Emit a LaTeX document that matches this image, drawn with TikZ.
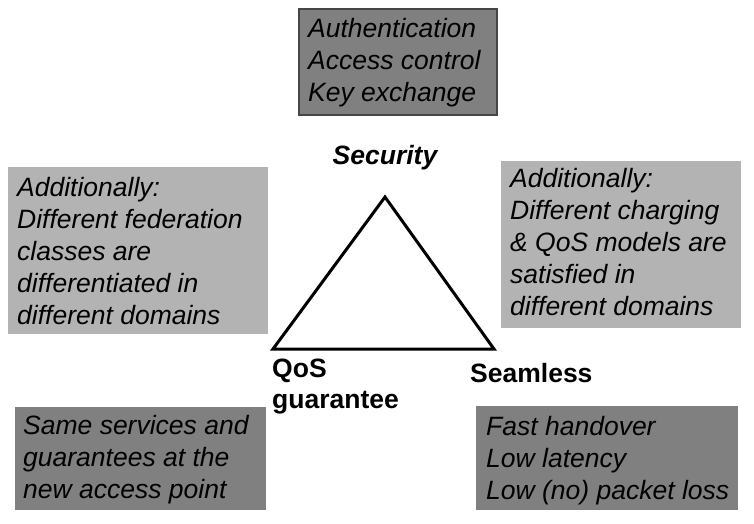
\documentclass[tikz,border=0pt]{standalone}
\usepackage{fontspec}
\setmainfont{Liberation Sans}
\begin{document}
\begin{tikzpicture}[x=1pt,y=-1pt,
  boxbase/.style={anchor=north west, inner sep=0pt, outer sep=0pt},
  darkbox/.style={boxbase, fill={rgb,255:red,128;green,128;blue,128}},
  lightbox/.style={boxbase, fill={rgb,255:red,179;green,179;blue,179}},
  borderbox/.style={darkbox, draw={rgb,255:red,70;green,70;blue,70}, line width=1.2pt},
  boxtext/.style={anchor=north west, inner sep=0pt, align=left,
    font=\fontsize{26.5}{32}\selectfont\itshape},
  vertexlabel/.style={inner sep=0pt, font=\fontsize{26.5}{31}\selectfont\bfseries},
  triline/.style={line width=3pt, line join=miter}
]
\useasboundingbox (0,0) rectangle (754,524);

% boxes
\node[borderbox, minimum width=198pt, minimum height=106pt] (secbox) at (299,9) {};
\node[lightbox, minimum width=260pt, minimum height=167pt] (fedbox) at (8,167) {};
\node[lightbox, minimum width=240pt, minimum height=167pt] (chgbox) at (501,161) {};
\node[darkbox, minimum width=251pt, minimum height=103pt] (qosbox) at (15,407) {};
\node[darkbox, minimum width=262pt, minimum height=104pt] (seambox) at (476,406) {};

% box texts
\node[boxtext] (sectext) at (308,18.2) {Authentication\\Access control\\Key exchange};
\node[boxtext] (fedtext) at (17,176.7) {Additionally:\\Different federation\\classes are\\differentiated in\\different domains};
\node[boxtext] (chgtext) at (510,167.7) {Additionally:\\Different charging\\\& QoS models are\\satisfied in\\different domains};
\node[boxtext] (qostext) at (23,414.7) {Same services and\\guarantees at the\\new access point};
\node[boxtext] (seamtext) at (486,415.7) {Fast handover\\Low latency\\Low (no) packet loss};

% triangle
\coordinate (apex) at (385,197);
\coordinate (bl) at (273,349);
\coordinate (br) at (494,349);
\draw[triline] (apex) -- (bl) -- (br) -- cycle;

% vertex labels
\node[vertexlabel, anchor=base, font=\fontsize{26.5}{31}\selectfont\bfseries\itshape] (seclabel) at (385,164) {Security};
\node[vertexlabel, anchor=north west, align=left] (qoslabel) at (272,359) {QoS\\guarantee};
\node[vertexlabel, anchor=base west] (seamlabel) at (470,382) {Seamless};
\end{tikzpicture}
\end{document}
